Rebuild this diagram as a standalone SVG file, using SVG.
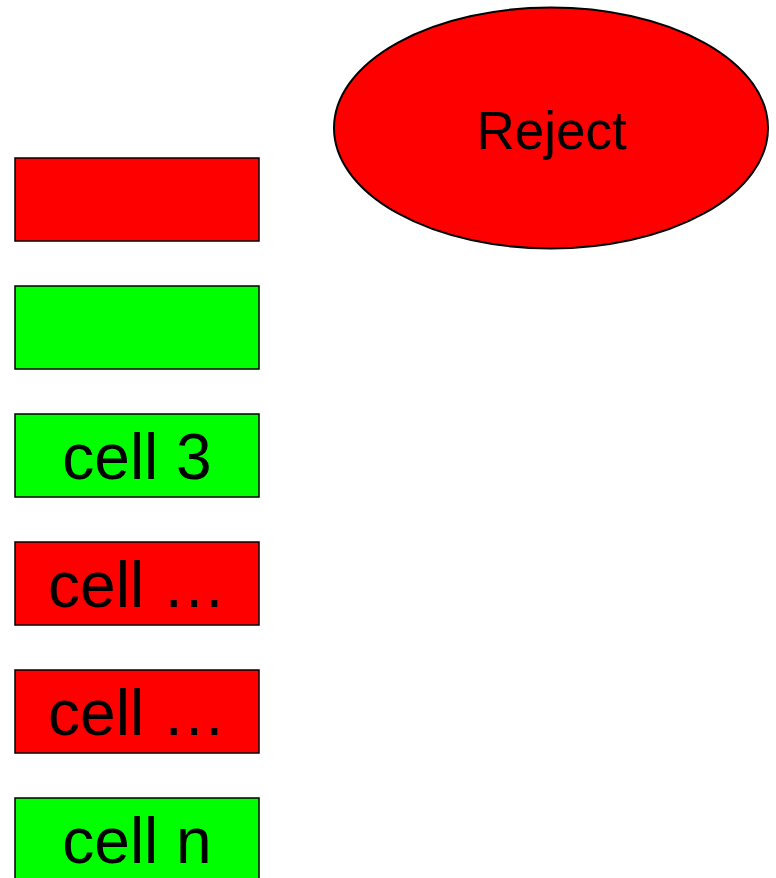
<svg xmlns="http://www.w3.org/2000/svg" width="776" height="878" viewBox="0 0 776 878">
<style>
.cell{stroke:#000;stroke-width:1.5}
.red{fill:#ff0000}
.green{fill:#00ff00}
.lbl{font-family:"Liberation Sans",Arial,sans-serif;font-size:64px;fill:#000;text-anchor:middle}
.rej{font-family:"Liberation Sans",Arial,sans-serif;font-size:53px;fill:#000;text-anchor:middle}
</style>
<rect width="776" height="878" fill="#fff"/>
<g id="reject">
<ellipse cx="551" cy="128" rx="217" ry="120.5" class="red" stroke="#000" stroke-width="2"/>
<text x="551.5" y="149" class="rej">Reject</text>
</g>
<g id="cell1"><rect x="15" y="158" width="244" height="83" class="cell red"/></g>
<g id="cell2"><rect x="15" y="286" width="244" height="83" class="cell green"/></g>
<g id="cell3"><rect x="15" y="414" width="244" height="83" class="cell green"/><text x="137" y="479" class="lbl">cell 3</text></g>
<g id="cell4"><rect x="15" y="542" width="244" height="83" class="cell red"/><text x="137" y="607" class="lbl">cell …</text></g>
<g id="cell5"><rect x="15" y="670" width="244" height="83" class="cell red"/><text x="137" y="735" class="lbl">cell …</text></g>
<g id="celln"><rect x="15" y="798" width="244" height="83" class="cell green"/><text x="137" y="863" class="lbl">cell n</text></g>
<g id="connectors"></g>
</svg>
